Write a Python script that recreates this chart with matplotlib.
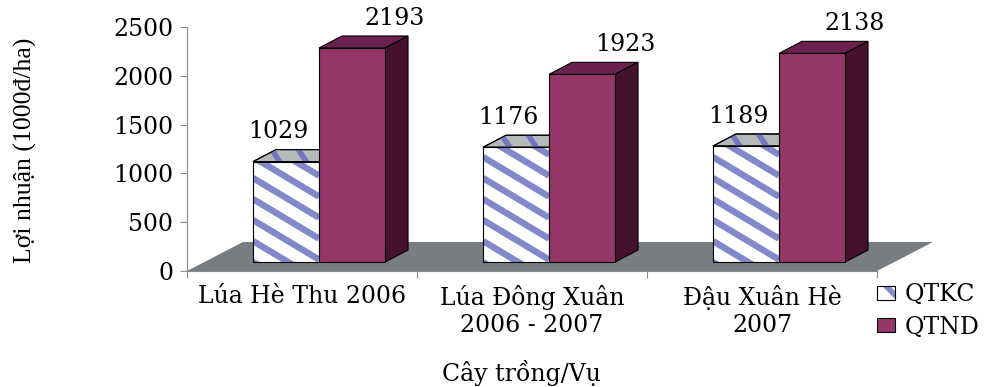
import matplotlib.pyplot as plt
from matplotlib.patches import Polygon, Patch
from matplotlib.legend_handler import HandlerTuple

categories = ['Lúa Hè Thu 2006', 'Lúa Đông Xuân\n2006 - 2007', 'Đậu Xuân Hè\n2007']
qtkc = [1029, 1176, 1189]
qtnd = [2193, 1923, 2138]
series_names = ['QTKC', 'QTND']
y_ticks = [0, 500, 1000, 1500, 2000, 2500]

# fake 3D geometry: x in category units, y in value units
bar_w = 0.287
front_dx, front_dy = 0.074, 92      # bar front plane, relative to floor front edge
depth_dx, depth_dy = 0.10, 123      # bar depth
floor_dx, floor_dy = 0.2435, 297    # floor depth

kc_face, kc_stripe = 'white', '#8289CA'
kc_top, kc_top_stripe = '#B5B9B9', '#7078C0'
nd_face, nd_top, nd_side = '#943768', '#6C2250', '#45112F'
floor_col = '#7A7D80'
axis_col = '#8A8A8A'

serif = ['DejaVu Serif']
fs = 17

plt.rcParams['hatch.linewidth'] = 4

fig = plt.figure(figsize=(9.9, 3.87), dpi=100)
ax = fig.add_axes([187 / 990, 116 / 387, 747.5 / 990, 244 / 387])
ax.set_xlim(0, 3.25)
ax.set_ylim(0, 2500)


def stripes(patch, slope, period, width, color, z):
    # parallel bands (pixel slope / vertical period) clipped to a patch
    inv = ax.transData.inverted()
    pts = patch.get_verts()
    x0, y0 = pts.min(axis=0)
    x1, y1 = pts.max(axis=0)
    span = y1 - y0 + slope * (x1 - x0)
    for k in range(int(span // period) + 2):
        c = y0 + k * period
        seg = inv.transform([(x0, c), (x1, c - slope * (x1 - x0))])
        ln, = ax.plot(seg[:, 0], seg[:, 1], color=color, lw=width * 72 / fig.dpi,
                      solid_capstyle='butt', zorder=z)
        ln.set_clip_path(patch)


def box_faces(left, top, z, top_col, side_col=None):
    right = left + bar_w
    top_face = Polygon([(left, top), (right, top), (right + depth_dx, top + depth_dy),
                        (left + depth_dx, top + depth_dy)], closed=True,
                       facecolor=top_col, edgecolor='black', lw=0.8, zorder=z)
    ax.add_patch(top_face)
    if side_col is not None:
        ax.add_patch(Polygon([(right, front_dy), (right, top), (right + depth_dx, top + depth_dy),
                              (right + depth_dx, front_dy + depth_dy)], closed=True,
                             facecolor=side_col, edgecolor='black', lw=0.8, zorder=z))
    return top_face


# floor
ax.add_patch(Polygon([(0, 0), (3, 0), (3 + floor_dx, floor_dy), (floor_dx, floor_dy)],
                     closed=True, facecolor=floor_col, edgecolor='none', zorder=1))

z = 2
for i in range(len(categories)):
    mid = i + 0.5 + front_dx
    kc_left = mid - bar_w

    # QTKC: striped white box
    top = qtkc[i] + front_dy
    tf = box_faces(kc_left, top, z, kc_top)
    stripes(tf, 1.5, 40, 5.5, kc_top_stripe, z + 0.1)
    front = ax.bar(kc_left, qtkc[i], bar_w, bottom=front_dy, align='edge',
                   color=kc_face, edgecolor='none', zorder=z)[0]
    stripes(front, 0.6, 21, 6.5, kc_stripe, z + 0.1)
    ax.bar(kc_left, qtkc[i], bar_w, bottom=front_dy, align='edge',
           fill=False, edgecolor='black', lw=0.8, zorder=z + 0.2)
    ax.add_patch(Polygon(tf.get_xy(), closed=True, fill=False, edgecolor='black',
                         lw=0.8, zorder=z + 0.2))
    ax.text(mid - bar_w / 2 - 0.035, top + 307, str(qtkc[i]), ha='center', va='center',
            family=serif, fontsize=fs)
    z += 1

    # QTND: solid box
    top = qtnd[i] + front_dy
    box_faces(mid, top, z, nd_top, nd_side)
    ax.bar(mid, qtnd[i], bar_w, bottom=front_dy, align='edge',
           color=nd_face, edgecolor='black', lw=0.8, zorder=z)
    ax.text(mid + bar_w / 2 + 0.187, top + 307, str(qtnd[i]), ha='center', va='center',
            family=serif, fontsize=fs)
    z += 1

# axes
for s in ['top', 'right']:
    ax.spines[s].set_visible(False)
ax.spines['left'].set_color(axis_col)
ax.spines['bottom'].set_color(axis_col)
ax.spines['bottom'].set_bounds(0, 3)
ax.spines['left'].set_zorder(0.5)
ax.spines['bottom'].set_zorder(1.5)

ax.set_yticks(y_ticks)
ax.set_yticklabels([str(v) for v in y_ticks], family=serif, fontsize=fs)
ax.tick_params(axis='y', direction='out', length=5, color=axis_col, pad=5)
ax.set_xticks([0, 1, 2, 3])
ax.set_xticklabels([])
ax.set_xticks([0.5, 1.5, 2.5], minor=True)
ax.set_xticklabels(categories, minor=True, family=serif, fontsize=fs, linespacing=1.25)
ax.tick_params(axis='x', which='major', direction='out', length=5, color=axis_col)
ax.tick_params(axis='x', which='minor', length=0, pad=10)

fig.text(25 / 990, 1 - 150 / 387, 'Lợi nhuận (1000đ/ha)', rotation=90, ha='center',
         va='center', family=['Liberation Serif'], fontsize=18.5)
fig.text(521 / 990, 6 / 387, 'Cây trồng/Vụ', ha='center', va='baseline',
         family=serif, fontsize=fs)

# legend
kc_handle = (Patch(facecolor='white', edgecolor=kc_stripe, hatch='\\', lw=0),
             Patch(fill=False, edgecolor='black', lw=0.8))
nd_handle = Patch(facecolor=nd_face, edgecolor='black', lw=0.8)
fig.legend([kc_handle, nd_handle], series_names,
           handler_map={tuple: HandlerTuple(ndivide=1, pad=0)},
           loc='center left', bbox_to_anchor=(877 / 990, 1 - 311 / 387), frameon=False,
           prop={'family': serif, 'size': fs}, handlelength=0.76, handleheight=0.52,
           handletextpad=0.42, labelspacing=0.4, borderpad=0, borderaxespad=0)

fig.savefig('out.png', dpi=100)
